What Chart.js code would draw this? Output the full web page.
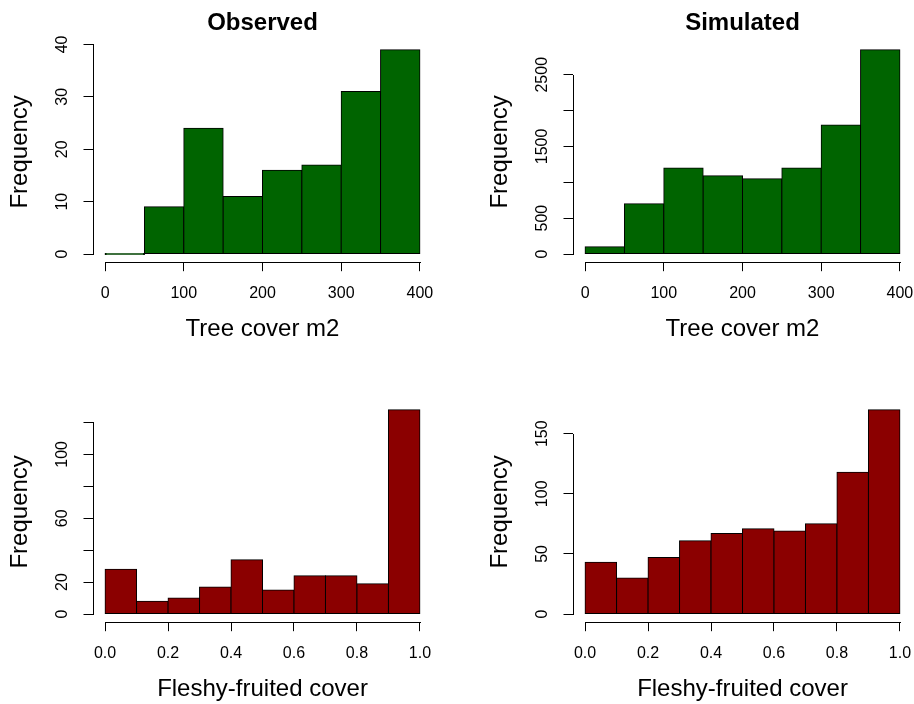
<!DOCTYPE html>
<html>
<head>
<meta charset="utf-8">
<script src="https://cdn.jsdelivr.net/npm/chart.js@4.4.1/dist/chart.umd.min.js"></script>
<style>
  html, body { margin: 0; padding: 0; background: #fff; overflow: hidden; }
  body { position: relative; width: 914px; height: 704px; }
  canvas { position: absolute; }
</style>
</head>
<body>
<canvas id="obsTree" width="457" height="352" style="left:0;top:0"></canvas>
<canvas id="simTree" width="457" height="352" style="left:480px;top:0"></canvas>
<canvas id="obsFleshy" width="457" height="352" style="left:0;top:360px"></canvas>
<canvas id="simFleshy" width="457" height="352" style="left:480px;top:360px"></canvas>
<script>
// tree cover histograms
const treeBreaks = [0, 50, 100, 150, 200, 250, 300, 350, 400];
const treeObserved = [0, 9, 24, 11, 16, 17, 31, 39];
const treeSimulated = [100, 700, 1200, 1090, 1050, 1200, 1800, 2850];
const treeTicks = [0, 100, 200, 300, 400];

// fleshy-fruited cover histograms
const fleshyBreaks = [0, 0.1, 0.2, 0.3, 0.4, 0.5, 0.6, 0.7, 0.8, 0.9, 1.0];
const fleshyObserved = [28, 8, 10, 17, 34, 15, 24, 24, 19, 128];
const fleshySimulated = [43, 30, 47, 61, 67, 71, 69, 75, 118, 170];
const fleshyTicks = [0, 0.2, 0.4, 0.6, 0.8, 1.0];

// frequency ticks, and which of them get a label
const obsTreeYTicks = [0, 10, 20, 30, 40];
const obsTreeYLabels = [0, 10, 20, 30, 40];
const simTreeYTicks = [0, 500, 1000, 1500, 2000, 2500];
const simTreeYLabels = [0, 500, 1500, 2500];
const obsFleshyYTicks = [0, 20, 40, 60, 80, 100, 120];
const obsFleshyYLabels = [0, 20, 60, 100];
const simFleshyYTicks = [0, 50, 100, 150];
const simFleshyYLabels = [0, 50, 100, 150];

const GREEN = '#006400';
const RED = '#8b0000';
const FONT = '"Liberation Sans", Arial, sans-serif';
const TICK_LEN = 9;

// axis lines only run from the first to the last tick
const rAxes = {
  id: 'rAxes',
  afterDraw(chart) {
    const {ctx, chartArea, scales: {x, y}} = chart;
    const al = v => Math.round(v) + 0.5;
    const x0 = x.getPixelForValue(x.ticks[0].value);
    const x1 = x.getPixelForValue(x.ticks[x.ticks.length - 1].value);
    const y0 = y.getPixelForValue(y.ticks[0].value);
    const y1 = y.getPixelForValue(y.ticks[y.ticks.length - 1].value);
    ctx.save();
    ctx.strokeStyle = '#000';
    ctx.lineWidth = 1;
    ctx.beginPath();
    ctx.moveTo(al(x0) - 0.5, al(chartArea.bottom));
    ctx.lineTo(al(x1) + 0.5, al(chartArea.bottom));
    ctx.moveTo(al(chartArea.left), al(y0) + 0.5);
    ctx.lineTo(al(chartArea.left), al(y1) - 0.5);
    ctx.stroke();
    ctx.restore();
  }
};

function labelPad(labels) {
  const c = document.createElement('canvas').getContext('2d');
  c.font = '16px ' + FONT;
  const w = Math.max(...labels.map(l => c.measureText(String(l)).width));
  return 29.5 - TICK_LEN - w / 2;
}

function histogram(id, opts) {
  const {breaks, counts, color, title, xTitle, xTicks, xFmt, yTicks, yLabels} = opts;
  const n = counts.length;
  const points = counts.map((c, i) => ({x: (breaks[i] + breaks[i + 1]) / 2, y: c}));
  const span = breaks[n] - breaks[0];
  const ymax = Math.max(...counts);

  new Chart(document.getElementById(id).getContext('2d'), {
    type: 'bar',
    data: {
      datasets: [{
        data: points,
        backgroundColor: color,
        borderColor: '#000',
        borderWidth: 1,
        borderSkipped: false,
        barPercentage: 1,
        categoryPercentage: 1,
        minBarLength: 1,
        inflateAmount: 0.5
      }]
    },
    options: {
      responsive: false,
      animation: false,
      layout: {
        padding: {left: 0, right: 24.5, bottom: 0, top: title ? 0 : 41.5}
      },
      plugins: {
        legend: {display: false},
        tooltip: {enabled: false},
        title: {
          display: !!title,
          text: title,
          fullSize: false,
          color: '#000',
          font: {family: FONT, size: 24, weight: 'bold', lineHeight: 1},
          padding: {top: 11.3, bottom: 6.2}
        }
      },
      scales: {
        x: {
          type: 'linear',
          offset: false,
          min: breaks[0] - 0.04 * span,
          max: breaks[n] + 0.04 * span,
          afterBuildTicks: s => { s.ticks = xTicks.map(v => ({value: v})); },
          afterFit: s => { s.height = 89.8; },
          border: {display: false},
          grid: {offset: false, drawOnChartArea: false, drawTicks: true, tickLength: TICK_LEN, color: '#000', lineWidth: 1},
          ticks: {
            color: '#000',
            font: {family: FONT, size: 16},
            padding: 13,
            maxRotation: 0,
            autoSkip: false,
            callback: v => xFmt(v)
          },
          title: {
            display: true,
            text: xTitle,
            color: '#000',
            font: {family: FONT, size: 24, lineHeight: 1},
            padding: {top: 0, bottom: 11}
          }
        },
        y: {
          type: 'linear',
          min: -0.04 * ymax,
          max: 1.04 * ymax,
          afterBuildTicks: s => { s.ticks = yTicks.map(v => ({value: v})); },
          afterFit: s => { s.width = 92.5; },
          border: {display: false},
          grid: {drawOnChartArea: false, drawTicks: true, tickLength: TICK_LEN, color: '#000', lineWidth: 1},
          ticks: {
            color: '#000',
            font: {family: FONT, size: 16},
            minRotation: 90,
            maxRotation: 90,
            crossAlign: 'center',
            padding: labelPad(yLabels),
            autoSkip: false,
            callback: v => (yLabels.includes(v) ? String(v) : '')
          },
          title: {
            display: true,
            text: 'Frequency',
            color: '#000',
            font: {family: FONT, size: 24, lineHeight: 1},
            padding: {top: 8.3, bottom: 0}
          }
        }
      }
    },
    plugins: [rAxes]
  });
}

const treeFmt = v => String(v);
const fleshyFmt = v => v.toFixed(1);

histogram('obsTree', {
  breaks: treeBreaks, counts: treeObserved, color: GREEN, title: 'Observed',
  xTitle: 'Tree cover m2', xTicks: treeTicks, xFmt: treeFmt,
  yTicks: obsTreeYTicks, yLabels: obsTreeYLabels
});
histogram('simTree', {
  breaks: treeBreaks, counts: treeSimulated, color: GREEN, title: 'Simulated',
  xTitle: 'Tree cover m2', xTicks: treeTicks, xFmt: treeFmt,
  yTicks: simTreeYTicks, yLabels: simTreeYLabels
});
histogram('obsFleshy', {
  breaks: fleshyBreaks, counts: fleshyObserved, color: RED, title: '',
  xTitle: 'Fleshy-fruited cover', xTicks: fleshyTicks, xFmt: fleshyFmt,
  yTicks: obsFleshyYTicks, yLabels: obsFleshyYLabels
});
histogram('simFleshy', {
  breaks: fleshyBreaks, counts: fleshySimulated, color: RED, title: '',
  xTitle: 'Fleshy-fruited cover', xTicks: fleshyTicks, xFmt: fleshyFmt,
  yTicks: simFleshyYTicks, yLabels: simFleshyYLabels
});
</script>
</body>
</html>
